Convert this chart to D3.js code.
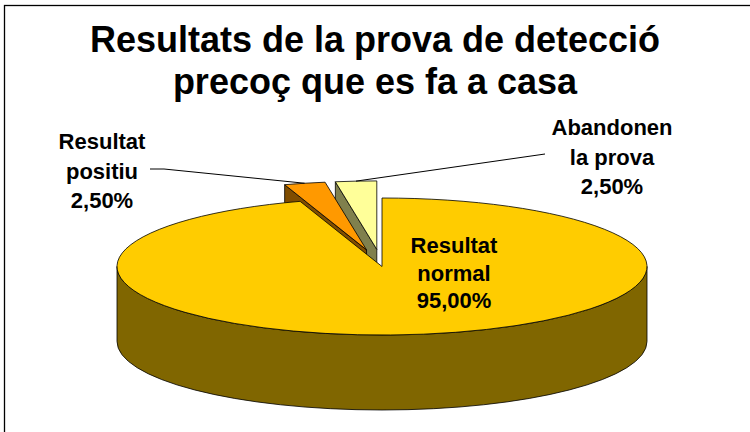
<!DOCTYPE html>
<html>
<head>
<meta charset="utf-8">
<script src="https://cdn.jsdelivr.net/npm/d3@7"></script>
<style>
  body { margin: 0; background: #fff; }
  svg { display: block; }
  text { font-family: "Liberation Sans", Arial, sans-serif; font-weight: bold; fill: #000; }
</style>
</head>
<body>
<div id="chart"></div>
<script>
// dades
var categories = ["Resultat normal", "Resultat positiu", "Abandonen la prova"];
var values = [95, 2.5, 2.5];
var titleLines = ["Resultats de la prova de detecció", "precoç que es fa a casa"];

// mida del gràfic
var width = 750;
var height = 432;

// el·lipse del pastís 3D
var cx = 382, cy = 266.5, rx = 265, ry = 68.5, depth = 75;
var explode = [0, 0.25, 0.25]; // porcions separades (fracció del radi)

// posició de les etiquetes: x centre, primera línia base, interlineat
var labelPos = [[454, 253, 27.5], [102, 149, 29.5], [612, 135, 29.5]];
// punts d'inici de les línies guia
var leaderStart = [null, [[150, 169], [164, 169]], [[545, 154]]];

var color = d3.scaleOrdinal().domain(categories).range(["#FFCC00", "#FF9900", "#FFFF99"]);
var sideColor = function(c) { // parets a mitja lluminositat
  var k = d3.rgb(color(c));
  return d3.rgb(k.r / 2, k.g / 2, k.b / 2);
};

var pct = d3.formatLocale({decimal: ",", thousands: ".", grouping: [3], currency: ["", "€"]}).format(".2f");

var svg = d3.select('#chart')
  .append('svg')
  .attr('width', width)
  .attr('height', height);

// marc
svg.append('rect')
  .attr('x', 4.5).attr('y', 5.5)
  .attr('width', width + 20).attr('height', height + 20)
  .attr('fill', 'none')
  .attr('stroke', '#000')
  .attr('stroke-width', 1.3);

// títol
svg.append('g').selectAll('text')
  .data(titleLines)
  .enter()
  .append('text')
  .attr('x', 375)
  .attr('y', function(d, i) { return 52 + i * 42; })
  .attr('text-anchor', 'middle')
  .style('font-size', '36px')
  .text(function(d) { return d; });

var pie = d3.pie()
  .value(function(d) { return d.value; })
  .sort(null);

var total = d3.sum(values);
var arcs = pie(categories.map(function(c, i) {
  return { label: c, value: values[i], explode: explode[i], index: i };
}));

arcs.forEach(function(d) {
  d.mid = (d.startAngle + d.endAngle) / 2;
  d.dx = Math.sin(d.mid) * d.data.explode * rx;
  d.dy = -Math.cos(d.mid) * d.data.explode * ry;
});

function pt(d, a, z) { return [cx + d.dx + rx * Math.sin(a), cy + d.dy - ry * Math.cos(a) + z]; }
function ctr(d, z) { return [cx + d.dx, cy + d.dy + z]; }

function topPath(d) {
  var p0 = pt(d, d.startAngle, 0), p1 = pt(d, d.endAngle, 0), c = ctr(d, 0);
  var large = (d.endAngle - d.startAngle) > Math.PI ? 1 : 0;
  return 'M' + c + 'L' + p0 + 'A' + rx + ',' + ry + ' 0 ' + large + ' 1 ' + p1 + 'Z';
}

function wallPath(d, a) {
  return 'M' + ctr(d, 0) + 'L' + pt(d, a, 0) + 'L' + pt(d, a, depth) + 'L' + ctr(d, depth) + 'Z';
}

function outerPath(d) {
  var s = Math.max(d.startAngle, Math.PI / 2), e = Math.min(d.endAngle, 3 * Math.PI / 2);
  if (s >= e) return null;
  var large = (e - s) > Math.PI ? 1 : 0;
  return 'M' + pt(d, s, 0) + 'A' + rx + ',' + ry + ' 0 ' + large + ' 1 ' + pt(d, e, 0) +
    'L' + pt(d, e, depth) + 'A' + rx + ',' + ry + ' 0 ' + large + ' 0 ' + pt(d, s, depth) + 'Z';
}

// ordre de dibuix: de darrere cap endavant
var order = arcs.slice().sort(function(a, b) { return Math.cos(b.mid) - Math.cos(a.mid); });

var slices = svg.append('g')
  .attr('stroke', '#000')
  .attr('stroke-width', 0.8)
  .attr('stroke-linejoin', 'round');

order.forEach(function(d) {
  var g = slices.append('g');
  var side = sideColor(d.data.label);
  if (Math.sin(d.startAngle) < -1e-6) g.append('path').attr('d', wallPath(d, d.startAngle)).attr('fill', side);
  if (Math.sin(d.endAngle) > 1e-6) g.append('path').attr('d', wallPath(d, d.endAngle)).attr('fill', side);
  var o = outerPath(d);
  if (o) g.append('path').attr('d', o).attr('fill', side);
  g.append('path').attr('d', topPath(d)).attr('fill', color(d.data.label));
});

// línies guia
arcs.forEach(function(d, i) {
  if (!leaderStart[i]) return;
  var pts = leaderStart[i].concat([pt(d, d.mid, 0)]);
  svg.append('path')
    .attr('d', d3.line()(pts))
    .attr('fill', 'none')
    .attr('stroke', '#000')
    .attr('stroke-width', 1);
});

// etiquetes
arcs.forEach(function(d, i) {
  var name = d.data.label;
  var sp = name.indexOf(' ');
  var lines = [name.slice(0, sp), name.slice(sp + 1), pct(100 * d.data.value / total) + '%'];
  var lp = labelPos[i];
  svg.append('g').selectAll('text')
    .data(lines)
    .enter()
    .append('text')
    .attr('x', lp[0])
    .attr('y', function(t, j) { return lp[1] + j * lp[2]; })
    .attr('text-anchor', 'middle')
    .style('font-size', '22px')
    .text(function(t) { return t; });
});
</script>
</body>
</html>
